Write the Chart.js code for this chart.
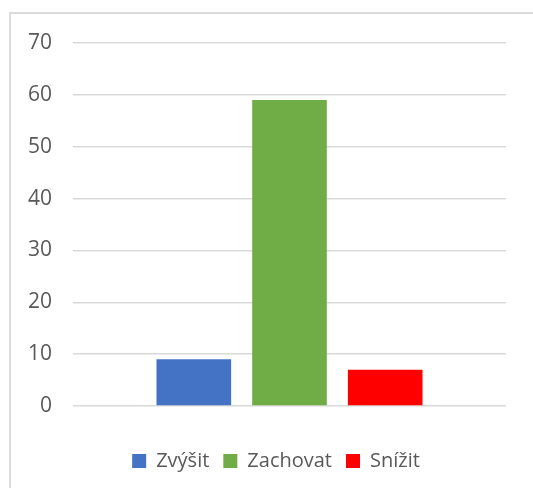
<!DOCTYPE html>
<html>
<head>
<meta charset="utf-8">
<script src="https://cdn.jsdelivr.net/npm/chart.js@4"></script>
<style>
html,body{margin:0;padding:0;background:#fff;overflow:hidden;}
#frame{position:absolute;left:9px;top:12px;width:540px;height:500px;border:2px solid #dcdcdc;box-sizing:border-box;}
#wrap{position:absolute;left:0;top:0;width:533px;height:488px;}
</style>
</head>
<body>
<div id="frame"></div>
<div id="wrap"><canvas id="c" width="533" height="488"></canvas></div>
<script>
const categories = [""];
const seriesNames = ["Zvýšit", "Zachovat", "Snížit"];
const seriesValues = [[9], [59], [7]];
const seriesColors = ["#4472C4", "#70AD47", "#FF0000"];
const yTicks = [0, 10, 20, 30, 40, 50, 60, 70];

const FONT = "'Open Sans', 'Liberation Sans', sans-serif";

const shiftLegend = {
  id: 'shiftLegend',
  afterLayout(chart) {
    const l = chart.legend;
    if (l) { l.left += 23; l.right += 23; }
  }
};

new Chart(document.getElementById('c'), {
  type: 'bar',
  data: {
    labels: categories,
    datasets: seriesNames.map((n, i) => ({
      label: n,
      data: seriesValues[i],
      backgroundColor: seriesColors[i],
      borderWidth: 0,
      categoryPercentage: 0.663,
      barPercentage: 0.78
    }))
  },
  plugins: [shiftLegend],
  options: {
    responsive: false,
    animation: false,
    devicePixelRatio: 1,
    layout: { padding: { top: 43, right: 27, left: 0, bottom: 7 } },
    plugins: {
      tooltip: { enabled: false },
      legend: {
        position: 'bottom',
        labels: {
          boxWidth: 14,
          boxHeight: 14,
          padding: 14,
          color: '#595959',
          font: { family: FONT, size: 20 }
        }
      }
    },
    scales: {
      x: {
        grid: { display: false },
        border: { display: false },
        ticks: { display: false },
        afterFit: s => { s.height = 31; }
      },
      y: {
        min: yTicks[0],
        max: yTicks[yTicks.length - 1],
        afterBuildTicks: s => { s.ticks = yTicks.map(v => ({ value: v })); },
        grid: { color: '#D9D9D9', lineWidth: 1.5, drawTicks: false },
        border: { display: false },
        ticks: {
          padding: 21,
          color: '#595959',
          font: { family: FONT, size: 21 }
        },
        afterFit: s => { s.width = 73; }
      }
    }
  }
});
</script>
</body>
</html>
